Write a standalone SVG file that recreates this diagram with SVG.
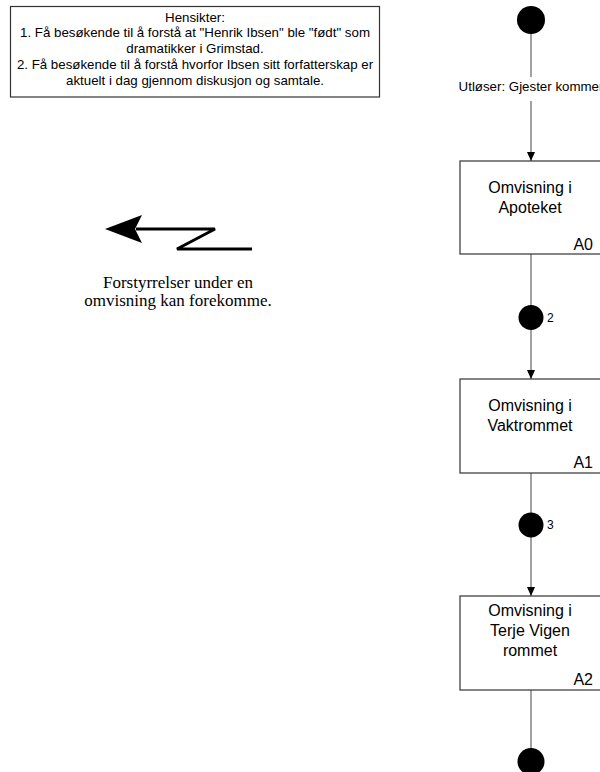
<svg xmlns="http://www.w3.org/2000/svg" width="600" height="772" viewBox="0 0 600 772">
  <style>
    .sans { font-family: "Liberation Sans", Arial, sans-serif; fill: #000; }
    .serif { font-family: "Liberation Serif", "Times New Roman", serif; fill: #000; }
    .note { font-size: 13.3px; text-anchor: middle; }
    .act { fill: #fff; stroke: #333; stroke-width: 1.2; }
    .actname { font-size: 16px; text-anchor: middle; }
    .actid { font-size: 16px; text-anchor: end; }
    .flow { stroke: #555; stroke-width: 1.1; fill: none; }
    .dot { fill: #000; }
    .small { font-size: 12px; }
  </style>
  <defs>
    <!-- small solid arrowhead, drawn along +x so orient="auto" follows the line -->
    <marker id="head" viewBox="0 0 9 8" refX="9" refY="4" markerWidth="9" markerHeight="8" markerUnits="userSpaceOnUse" orient="auto">
      <path d="M0,0 L9,4 L0,8 Z" fill="#000"/>
    </marker>
  </defs>

  <rect width="600" height="772" fill="#fff"/>

  <!-- purpose statement -->
  <g id="purpose">
    <rect x="10.5" y="6.5" width="369" height="90.5" fill="#fff" stroke="#333" stroke-width="1.2"/>
    <text class="sans note" x="195" y="21.5">Hensikter:</text>
    <text class="sans note" x="195" y="37.4">1. Få besøkende til å forstå at "Henrik Ibsen" ble "født" som</text>
    <text class="sans note" x="195" y="53.3">dramatikker i Grimstad.</text>
    <text class="sans note" x="195" y="69.2">2. Få besøkende til å forstå hvorfor Ibsen sitt forfatterskap er</text>
    <text class="sans note" x="195" y="85.1">aktuelt i dag gjennom diskusjon og samtale.</text>
  </g>

  <!-- interruption symbol -->
  <g id="interrupt">
    <path d="M252,249 L177,249 L215,229 L136,229" fill="none" stroke="#000" stroke-width="3" stroke-linejoin="miter"/>
    <path d="M105,229 L142,215 L135,229 L142,243 Z" fill="#000"/>
    <text class="serif" font-size="17" text-anchor="middle" x="178" y="288">Forstyrrelser under en</text>
    <text class="serif" font-size="17" text-anchor="middle" x="178" y="306">omvisning kan forekomme.</text>
  </g>

  <!-- connectors -->
  <g id="connectors">
    <line class="flow" x1="531" y1="20" x2="531" y2="161" marker-end="url(#head)"/>
    <line class="flow" x1="531" y1="254" x2="531" y2="379" marker-end="url(#head)"/>
    <line class="flow" x1="531" y1="473" x2="531" y2="596" marker-end="url(#head)"/>
    <line class="flow" x1="531" y1="690" x2="531" y2="760"/>
    <rect x="455" y="77" width="150" height="24" fill="#fff"/>
    <text class="sans note" x="531" y="91">Utløser: Gjester kommer</text>
  </g>

  <!-- start -->
  <g id="start">
    <circle class="dot" cx="531" cy="20" r="14"/>
  </g>

  <!-- A0 -->
  <g id="A0">
    <rect class="act" x="460" y="161" width="143" height="93"/>
    <text class="sans actname" x="530" y="193">Omvisning i</text>
    <text class="sans actname" x="530" y="213">Apoteket</text>
    <text class="sans actid" x="593" y="250">A0</text>
  </g>

  <!-- junction 2 -->
  <g id="j2">
    <circle class="dot" cx="531" cy="317.5" r="12.5"/>
    <text class="sans small" x="547" y="322">2</text>
  </g>

  <!-- A1 -->
  <g id="A1">
    <rect class="act" x="460" y="379" width="143" height="94"/>
    <text class="sans actname" x="530" y="411">Omvisning i</text>
    <text class="sans actname" x="530" y="431">Vaktrommet</text>
    <text class="sans actid" x="593" y="468">A1</text>
  </g>

  <!-- junction 3 -->
  <g id="j3">
    <circle class="dot" cx="531" cy="525" r="12.5"/>
    <text class="sans small" x="547" y="529">3</text>
  </g>

  <!-- A2 -->
  <g id="A2">
    <rect class="act" x="460" y="596" width="143" height="94"/>
    <text class="sans actname" x="530" y="616">Omvisning i</text>
    <text class="sans actname" x="530" y="636">Terje Vigen</text>
    <text class="sans actname" x="530" y="656">rommet</text>
    <text class="sans actid" x="593" y="685">A2</text>
  </g>

  <!-- end -->
  <g id="end">
    <circle class="dot" cx="531" cy="761.5" r="13.5"/>
  </g>
</svg>
